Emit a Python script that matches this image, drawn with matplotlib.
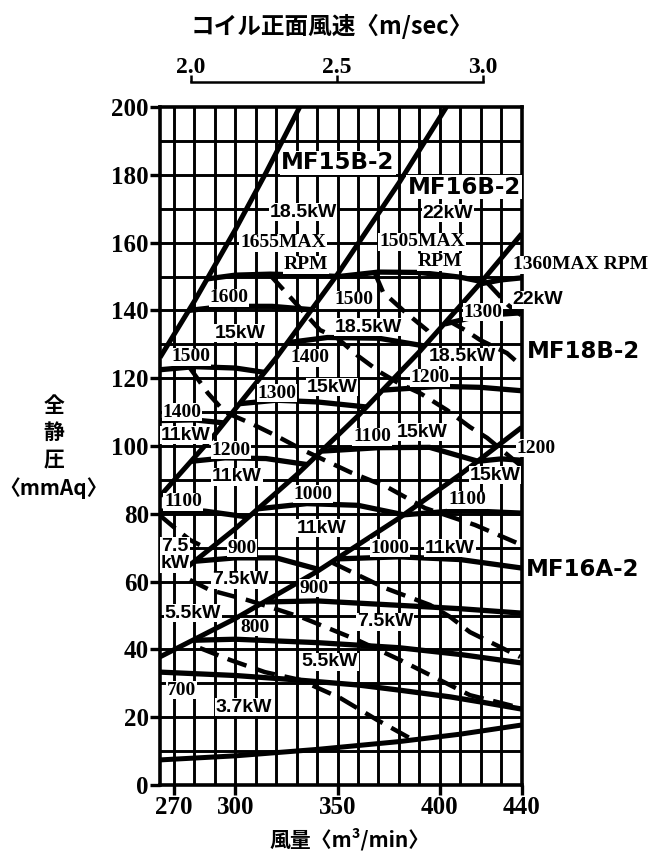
import matplotlib
matplotlib.use("Agg")
import matplotlib.pyplot as plt
from matplotlib.ticker import FixedLocator, FixedFormatter

# ---------------- axes data ----------------
x_ticks = [270, 300, 350, 400, 440]
x_grid = [270, 280, 290, 300, 310, 320, 330, 340, 350, 360, 370, 380, 390, 400, 410, 420, 430]
y_ticks = [0, 20, 40, 60, 80, 100, 120, 140, 160, 180, 200]
y_grid = [10, 30, 50, 70, 90, 110, 130, 150, 170, 190]
v_ticks = [2.0, 2.5, 3.0]
v_tick_labels = ["2.0", "2.5", "3.0"]
v_ref_q = [278.3, 421.1]          # flow at 2.0 and 3.0 m/sec

# ---------------- system (resistance) curves ----------------
sysA_q = [263.2, 280, 300, 315, 331.5]
sysA_p = [126.1, 142.7, 163.8, 180.6, 200.0]
sysB_q = [263.2, 290, 320, 350, 380, 403.2]
sysB_p = [85.2, 103.4, 126.0, 150.7, 177.6, 200.0]
sysC_q = [277.0, 300, 330, 360, 390, 420, 440]
sysC_p = [64.5, 75.6, 91.5, 108.9, 127.8, 148.2, 162.6]
sysD_q = [263.2, 300, 340, 380, 410, 440]
sysD_p = [37.8, 49.1, 63.0, 78.7, 91.6, 105.5]
sysE_q = [263.2, 300, 340, 380, 410, 440]
sysE_p = [7.4, 8.6, 10.5, 12.8, 15.0, 17.7]

# ---------------- RPM curves (solid) ----------------
mf15b_rpm = [
    ([286.4, 300, 317, 335, 350.6], [149.3, 150.4, 150.7, 150.4, 150.0]),   # 1655 MAX
    ([277.4, 295, 318, 337.8], [140.0, 141.2, 141.2, 140.2]),              # 1600
    ([263.2, 280, 300, 314.5], [122.5, 123.4, 123.0, 121.7]),              # 1500
    ([263.2, 280, 294.7], [107.5, 107.7, 106.8]),                          # 1400
]
mf16b_rpm = [
    ([350.6, 370, 390, 410, 420.5], [150.0, 151.3, 151.2, 149.8, 148.5]),  # 1505 MAX
    ([325.7, 345, 370, 392.6], [130.5, 132.0, 131.8, 129.5]),              # 1400
    ([302.4, 320, 340, 364.3], [112.5, 113.5, 113.0, 111.5]),              # 1300
    ([278.6, 295, 315, 335.4], [95.5, 96.5, 96.3, 94.5]),                  # 1200
    ([263.2, 285, 306.7], [80.8, 80.8, 79.0]),                             # 1100
]
mf18b_rpm = [
    ([419.5, 430, 440], [147.8, 149.0, 149.6]),                            # 1360 MAX
    ([402.4, 420, 440], [136.0, 138.5, 139.3]),                            # 1300
    ([372.5, 400, 420, 440], [116.5, 117.6, 117.3, 116.3]),                # 1200
    ([342.4, 370, 395, 418.6], [98.5, 99.5, 99.6, 95.5]),                  # 1100
    ([311.5, 335, 360, 382.4], [81.5, 83.0, 82.5, 79.7]),                  # 1000
    ([280.3, 300, 320, 341.3], [66.0, 67.0, 67.0, 63.5]),                  # 900
]
mf16a_rpm = [
    ([418.6, 430, 440], [95.5, 96.2, 95.8]),                               # 1200
    ([382.4, 410, 440], [79.7, 81.0, 80.2]),                               # 1100
    ([349.8, 380, 410, 440], [66.7, 67.3, 66.5, 64.0]),                    # 1000
    ([314.8, 340, 380, 410, 440], [54.0, 54.3, 53.0, 52.0, 50.7]),         # 900
    ([280.0, 300, 340, 380, 410, 440], [42.7, 43.0, 42.0, 40.5, 38.5, 36.0]),  # 800
    ([263.2, 300, 330, 360, 380, 405, 420, 440],
     [33.3, 32.3, 31.0, 29.5, 28.0, 26.0, 24.5, 22.4]),                    # 700
]

# ---------------- kW curves (dashed) ----------------
kw_lines = [
    ([316.9, 326.7, 341.4, 349.7, 359.5, 370.7, 380.5, 390.3, 403.5, 414.7, 423.1, 439.7],
     [150.5, 144.0, 134.2, 131.9, 126.8, 121.8, 118.3, 115.6, 110.6, 105.6, 102.4, 94.1]),
    ([368.3, 372.2, 383.0, 393.7, 396.2], [150.9, 145.4, 139.5, 134.2, 132.2]),
    ([423.1, 433.3, 439.7], [148.2, 141.6, 138.6]),
    ([403.5, 412.3, 419.6, 432.8, 437.7, 439.7], [137.2, 134.2, 131.3, 127.4, 124.8, 123.9]),
    ([277.5, 286.6, 294.9, 307.2, 319.4, 333.1, 356.1, 374.2, 392.7, 417.2, 437.7, 439.8],
     [123.3, 115.6, 110.0, 106.8, 103.2, 98.8, 92.3, 87.9, 81.7, 76.7, 71.4, 70.8]),
    ([263.2, 270.5, 277.8, 287.6], [79.5, 75.8, 72.3, 69.3]),
    ([277.8, 287.6, 305.7, 316.9, 333.1, 359.5, 380.5, 414.7, 439.7],
     [60.5, 57.5, 54.6, 52.5, 49.3, 42.8, 36.9, 26.5, 22.7]),
    ([347.7, 373.2, 395.2, 405.0, 414.7, 439.2], [65.5, 58.1, 53.1, 49.6, 45.1, 37.8]),
    ([282.7, 297.4, 314.5, 331.6, 351.2, 369.3, 386.9], [40.4, 36.9, 33.3, 31.0, 25.7, 19.2, 13.3]),
]

# ---------------- labels ----------------
rpm_labels = [
    ("1655MAX", 323.3, 159.9), ("RPM", 334.5, 153.4),
    ("1505MAX", 391.3, 160.2), ("RPM", 400.0, 154.3),
    ("1360MAX RPM", 469.0, 153.4),
    ("1600", 296.9, 143.7), ("1500", 278.3, 126.3), ("1400", 273.9, 110.0),
    ("1500", 358.0, 143.1), ("1400", 336.5, 126.0), ("1300", 320.4, 115.6),
    ("1200", 297.9, 98.8), ("1100", 274.4, 83.5),
    ("1300", 421.1, 139.5), ("1200", 395.2, 120.1), ("1100", 366.8, 102.7),
    ("1000", 338.0, 85.8), ("900", 303.3, 69.9),
    ("1200", 447.0, 99.4), ("1100", 413.3, 84.1), ("1000", 375.6, 69.9),
    ("900", 338.5, 58.1), ("800", 309.6, 46.6), ("700", 273.9, 28.0),
]
kw_labels = [
    ("18.5kW", 333.1, 169.0), ("15kW", 302.3, 133.3), ("11kW", 275.9, 103.2),
    ("22kW", 404.0, 168.7), ("18.5kW", 364.9, 135.1), ("15kW", 347.3, 117.4),
    ("11kW", 300.8, 90.9), ("7.5\nkW", 270.5, 67.8),
    ("22kW", 448.0, 143.1), ("18.5kW", 410.8, 126.3), ("15kW", 391.3, 104.1),
    ("11kW", 342.4, 75.8), ("7.5kW", 302.3, 60.5), ("5.5kW", 279.3, 50.7),
    ("15kW", 427.0, 91.4), ("11kW", 405.0, 69.9), ("7.5kW", 373.2, 48.1),
    ("5.5kW", 346.3, 36.3), ("3.7kW", 304.2, 23.0),
]
model_labels = [
    ("MF15B-2", 350.2, 183.5), ("MF16B-2", 411.8, 176.4),
    ("MF18B-2", 470.0, 128.0), ("MF16A-2", 470.0, 63.5),
]

x_title = "風量〈m³/min〉"
top_title = "コイル正面風速〈m/sec〉"
y_title = "全\n静\n圧\n〈mmAq〉"

# ---------------- figure ----------------
serif = "Liberation Serif"
cjk = ["Noto Sans CJK JP", "DejaVu Sans"]
plt.rcParams["font.family"] = serif
plt.rcParams["font.weight"] = "bold"

W, H = 657, 852
fig = plt.figure(figsize=(W / 100, H / 100), dpi=100)
fig.patch.set_facecolor("white")
ax = fig.add_axes([160 / W, 1 - 785 / H, (521.7 - 160) / W, (785 - 107) / H])
ax.set_xlim(263.2, 440)
ax.set_ylim(0, 200)

# grid
for q in x_grid:
    ax.axvline(q, color="black", lw=2.1, zorder=1)
for p in y_ticks[1:-1] + y_grid:
    ax.axhline(p, color="black", lw=2.1, zorder=1)

for s in ax.spines.values():
    s.set_linewidth(2.6)
    s.set_zorder(5)

ax.xaxis.set_major_locator(FixedLocator(x_ticks))
ax.yaxis.set_major_locator(FixedLocator(y_ticks))
ax.xaxis.set_major_formatter(FixedFormatter([str(t) for t in x_ticks]))
ax.yaxis.set_major_formatter(FixedFormatter([str(t) for t in y_ticks]))
ax.tick_params(axis="both", direction="out", length=7, width=2.4, pad=1, labelsize=18)

# top velocity axis
def q2v(q):
    return 2.0 + (q - v_ref_q[0]) / (v_ref_q[1] - v_ref_q[0])

def v2q(v):
    return v_ref_q[0] + (v - 2.0) * (v_ref_q[1] - v_ref_q[0])

sec = ax.secondary_xaxis("top", functions=(q2v, v2q))
sec.xaxis.set_major_locator(FixedLocator(v_ticks))
sec.xaxis.set_major_formatter(FixedFormatter(v_tick_labels))
sec.spines["top"].set_position(("outward", 18))
sec.spines["top"].set_bounds(2.0, 3.0)
sec.spines["top"].set_linewidth(1.8)
sec.tick_params(direction="out", length=5, width=1.8, pad=-2, labelsize=17)

# system curves
for qs, ps in [(sysA_q, sysA_p), (sysB_q, sysB_p), (sysC_q, sysC_p),
               (sysD_q, sysD_p), (sysE_q, sysE_p)]:
    ax.plot(qs, ps, color="black", lw=3.6, solid_capstyle="butt", zorder=3)

# RPM curves
for fam in (mf15b_rpm, mf16b_rpm, mf18b_rpm, mf16a_rpm):
    for qs, ps in fam:
        ax.plot(qs, ps, color="black", lw=3.8, solid_capstyle="butt", zorder=3)

# kW curves
for qs, ps in kw_lines:
    ax.plot(qs, ps, color="black", lw=3.2, dashes=(4.5, 2.2), dash_capstyle="butt", zorder=4)

box = dict(facecolor="white", edgecolor="none", pad=0.6)
for t, q, p in rpm_labels:
    ax.text(q, p, t, fontfamily=serif, fontweight="bold", fontsize=14, ha="center",
            va="center", bbox=box, zorder=6, clip_on=False)
for t, q, p in kw_labels:
    ax.text(q, p, t, fontfamily="Liberation Sans", fontweight="bold", fontsize=14,
            ha="center", va="center", bbox=box, zorder=6, clip_on=False, linespacing=1.0)
for t, q, p in model_labels:
    ax.text(q, p, t, fontfamily="DejaVu Sans", fontweight="bold", fontsize=16.5,
            ha="center", va="center", bbox=box, zorder=6, clip_on=False)

fig.text(350 / W, 1 - 839 / H, x_title, fontfamily=cjk, fontweight="bold", fontsize=15,
         ha="center", va="center")
fig.text(332 / W, 1 - 26 / H, top_title, fontfamily=cjk, fontweight="bold", fontsize=17,
         ha="center", va="center")
fig.text(54 / W, 1 - 447 / H, y_title, fontfamily=cjk, fontweight="bold", fontsize=15,
         ha="center", va="center", linespacing=1.38)

fig.savefig("out.png", dpi=100, facecolor="white")
